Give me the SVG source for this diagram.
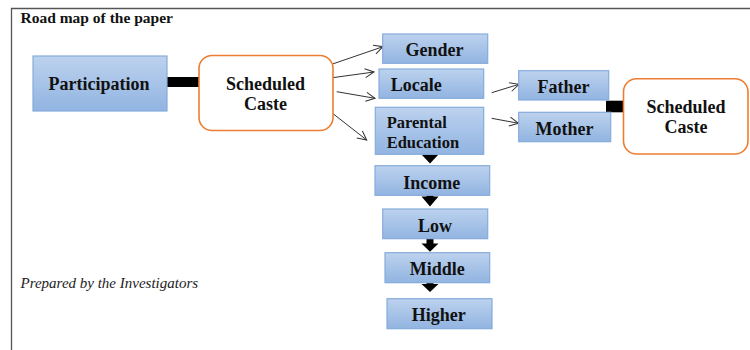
<svg xmlns="http://www.w3.org/2000/svg" width="750" height="350" viewBox="0 0 750 350">
<defs>
<linearGradient id="bg" x1="0" y1="0" x2="0" y2="1">
<stop offset="0" stop-color="#bdd2ee"/>
<stop offset="1" stop-color="#91b4e1"/>
</linearGradient>
<marker id="ah" markerWidth="12" markerHeight="12" refX="10" refY="6" orient="auto" markerUnits="userSpaceOnUse">
<path d="M1,1.5 L10,6 L1,10.5" fill="none" stroke="#333" stroke-width="1"/>
</marker>
</defs>
<style>
.box{fill:url(#bg);stroke:#86acdc;stroke-width:1.2}
.rbox{fill:#fff;stroke:#ed7d31;stroke-width:1.6}
.lbl{font-family:"Liberation Serif","Times New Roman",serif;font-weight:bold;font-size:18px;fill:#111;text-anchor:middle}
.lbs{font-family:"Liberation Serif","Times New Roman",serif;font-weight:bold;font-size:16.5px;fill:#111}
.conn{stroke:#333;stroke-width:1;fill:none;marker-end:url(#ah)}
.frame{stroke:#555;stroke-width:1.3;fill:none}
</style>
<path class="frame" d="M11.5,350 V8.5 H750"/>
<text x="20.5" y="23" font-family="Liberation Serif,serif" font-weight="bold" font-size="15.5" fill="#111">Road map of the paper</text>
<text x="20.5" y="288" font-family="Liberation Serif,serif" font-style="italic" font-size="15" fill="#222">Prepared by the Investigators</text>

<g id="connectors">
<rect x="166" y="77" width="34" height="10" fill="#000"/>
<rect x="606" y="100.7" width="18" height="11.6" fill="#000"/>
<line class="conn" x1="332.5" y1="64" x2="383" y2="46.7"/>
<line class="conn" x1="332.5" y1="77.7" x2="374" y2="72"/>
<line class="conn" x1="336.7" y1="91.7" x2="375" y2="98.3"/>
<line class="conn" x1="332.5" y1="113.3" x2="366.7" y2="140"/>
<line class="conn" x1="491.7" y1="92.7" x2="519" y2="84.3"/>
<line class="conn" x1="491.7" y1="118.3" x2="518.5" y2="123.3"/>
<polygon points="421.5,154.5 438.5,154.5 430,163.5" fill="#000"/>
<polygon points="426.5,195.3 433.5,195.3 433.5,196.5 438.5,196.5 430,206.5 421.5,196.5 426.5,196.5" fill="#000"/>
<polygon points="426.5,238.7 433.5,238.7 433.5,243.5 438.5,243.5 430,251.8 421.5,243.5 426.5,243.5" fill="#000"/>
<polygon points="426.5,282.7 433.5,282.7 433.5,284 438.5,284 430,292 421.5,284 426.5,284" fill="#000"/>
</g>

<g id="participation">
<rect class="box" x="33" y="56" width="134" height="55"/>
<text class="lbl" x="99" y="89.5">Participation</text>
</g>
<g id="sc-left">
<rect class="rbox" x="199" y="55.5" width="134" height="75" rx="13"/>
<text class="lbl" x="265.5" y="90">Scheduled</text>
<text class="lbl" x="265.5" y="110">Caste</text>
</g>
<g id="gender">
<rect class="box" x="382.7" y="34" width="105" height="29.3"/>
<text class="lbl" x="434.5" y="56">Gender</text>
</g>
<g id="locale">
<rect class="box" x="379" y="69" width="104.7" height="29.3"/>
<text class="lbl" x="390.7" y="91" style="text-anchor:start">Locale</text>
</g>
<g id="parental-education">
<rect class="box" x="375.3" y="107.3" width="108.4" height="47"/>
<text class="lbs" x="386.7" y="128.3">Parental</text>
<text class="lbs" x="386.7" y="148.3">Education</text>
</g>
<g id="father">
<rect class="box" x="518.7" y="70.7" width="90" height="29.3"/>
<text class="lbl" x="563.5" y="93.3">Father</text>
</g>
<g id="mother">
<rect class="box" x="518.7" y="112.3" width="92" height="29.4"/>
<text class="lbl" x="564.5" y="135">Mother</text>
</g>
<g id="sc-right">
<rect class="rbox" x="623.5" y="78.7" width="124.5" height="75.3" rx="13"/>
<text class="lbl" x="686" y="113.3">Scheduled</text>
<text class="lbl" x="686" y="133.3">Caste</text>
</g>
<g id="income">
<rect class="box" x="375" y="165.7" width="114.7" height="29.6"/>
<text class="lbl" x="431.7" y="189">Income</text>
</g>
<g id="low">
<rect class="box" x="382.7" y="209" width="105" height="29.7"/>
<text class="lbl" x="435" y="231.7">Low</text>
</g>
<g id="middle">
<rect class="box" x="385" y="252.7" width="104.7" height="30"/>
<text class="lbl" x="437.2" y="275">Middle</text>
</g>
<g id="higher">
<rect class="box" x="387" y="298.7" width="105" height="30"/>
<text class="lbl" x="438.8" y="321">Higher</text>
</g>
</svg>
